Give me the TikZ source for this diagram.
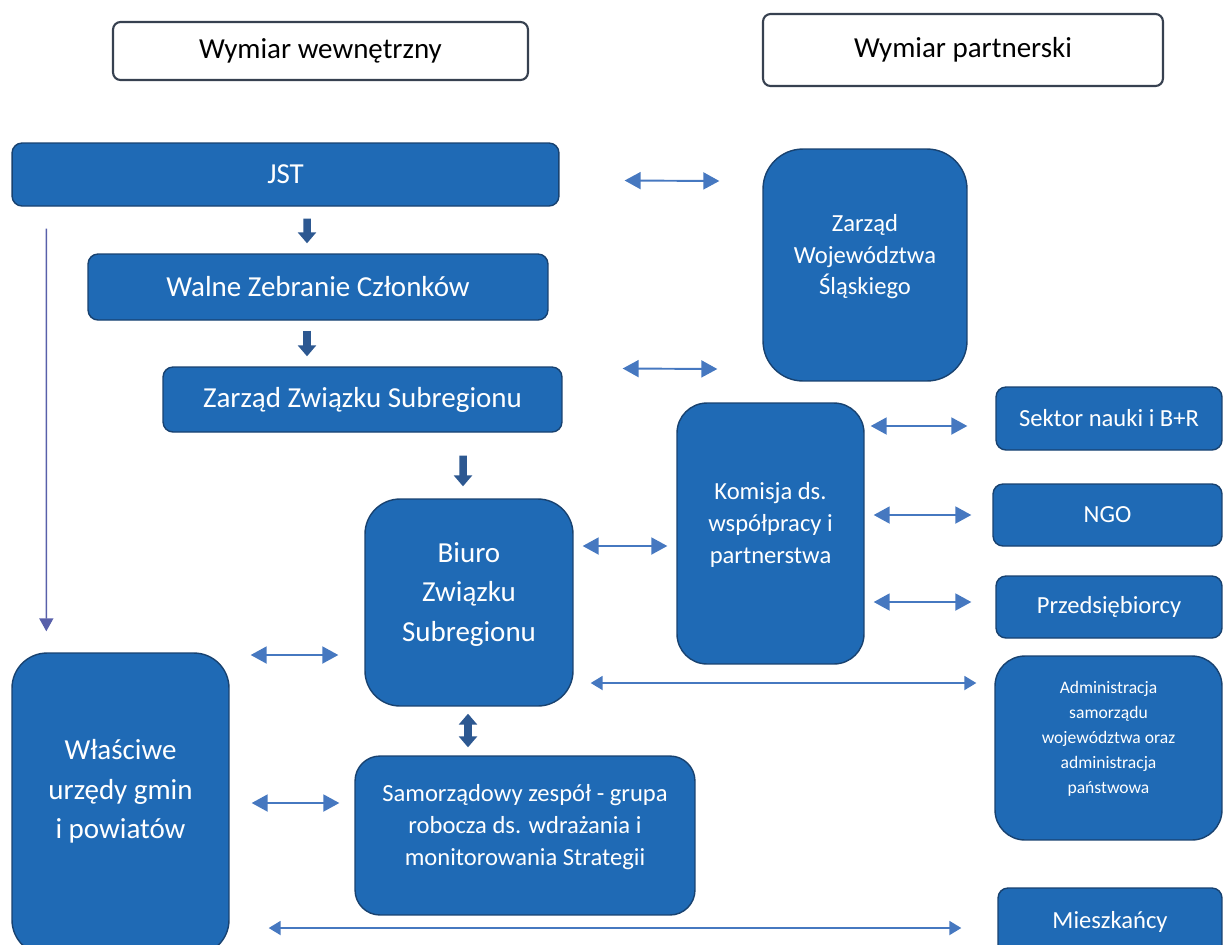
\documentclass[tikz,border=0pt]{standalone}
\usepackage{fontspec}
\setmainfont{Carlito}
\usetikzlibrary{arrows.meta,calc}
\definecolor{boxblue}{RGB}{31,106,181}
\definecolor{boxedge}{RGB}{24,66,112}
\definecolor{arrblue}{RGB}{70,120,192}
\definecolor{thickblue}{RGB}{45,88,145}
\definecolor{sideline}{RGB}{88,96,170}
\definecolor{headedge}{RGB}{55,65,80}
\begin{document}
\begin{tikzpicture}[x=0.02cm,y=-0.02cm,
  hdr/.style={draw=headedge, line width=1.2pt, fill=white, rounded corners=0.15cm, inner sep=0pt, font=\fontsize{16.5}{22.5}\selectfont},
  box/.style={draw=boxedge, line width=0.8pt, fill=boxblue, text=white, rounded corners=0.2cm, inner sep=0pt, align=center, font=\fontsize{16.5}{22.5}\selectfont},
  tallbox/.style={box, rounded corners=0.7cm, text depth=0.42cm},
  midfont/.style={font=\fontsize{14}{18}\selectfont},
  smallfont/.style={font=\fontsize{10}{14.2}\selectfont},
  down/.style={draw=thickblue, line width=0.15cm, -{Triangle[length=0.22cm,width=0.36cm]}},
  updown/.style={draw=thickblue, line width=0.15cm, {Triangle[length=0.22cm,width=0.36cm]}-{Triangle[length=0.22cm,width=0.36cm]}},
  dbl/.style={draw=arrblue, line width=1.1pt, {Triangle[length=0.32cm,width=0.34cm]}-{Triangle[length=0.32cm,width=0.34cm]}},
  longdbl/.style={draw=arrblue, line width=1.1pt, {Triangle[length=0.24cm,width=0.28cm]}-{Triangle[length=0.24cm,width=0.28cm]}},
  side/.style={draw=sideline, line width=0.9pt, -{Triangle[length=0.26cm,width=0.28cm]}}
]
\useasboundingbox (0,0) rectangle (1224,944);
\clip (0,0) rectangle (1224,944);

\node[hdr, minimum width=8.3cm, minimum height=1.16cm] (wew) at (320.5,51) {Wymiar wewnętrzny};
\node[hdr, minimum width=8cm, minimum height=1.44cm] (par) at (963,50) {Wymiar partnerski};

\node[box, minimum width=10.94cm, minimum height=1.26cm] (jst) at (285.5,174.5) {JST};
\node[box, minimum width=9.2cm, minimum height=1.32cm] (wzc) at (318,287) {Walne Zebranie Członków};
\node[box, minimum width=7.98cm, minimum height=1.3cm] (zzs) at (362.5,399.5) {Zarząd Związku Subregionu};
\node[tallbox, midfont, rounded corners=0.8cm, minimum width=4.08cm, minimum height=4.64cm] (zw) at (865,265) {Zarząd\\Województwa\\Śląskiego};
\node[tallbox, midfont, rounded corners=0.6cm, minimum width=3.74cm, minimum height=5.22cm] (kom) at (770.5,533.5) {Komisja ds.\\współpracy i\\partnerstwa};
\node[tallbox, minimum width=4.16cm, minimum height=4.14cm] (biu) at (469,602.5) {Biuro\\Związku\\Subregionu};
\node[tallbox, midfont, rounded corners=0.5cm, minimum width=6.8cm, minimum height=3.18cm] (sam) at (525,835.5) {Samorządowy zespół - grupa\\robocza ds. wdrażania i\\monitorowania Strategii};
\node[tallbox, text depth=0.6cm, minimum width=4.34cm, minimum height=6.04cm] (wla) at (120.5,804) {Właściwe\\urzędy gmin\\i powiatów};

\node[box, midfont, minimum width=4.52cm, minimum height=1.26cm] (sek) at (1109,418.5) {Sektor nauki i B+R};
\node[box, midfont, minimum width=4.58cm, minimum height=1.24cm] (ngo) at (1107.5,515) {NGO};
\node[box, midfont, minimum width=4.52cm, minimum height=1.24cm] (prz) at (1109,607) {Przedsiębiorcy};
\node[tallbox, smallfont, rounded corners=0.6cm, minimum width=4.54cm, minimum height=3.68cm] (adm) at (1108.5,748) {Administracja\\samorządu\\województwa oraz\\administracja\\państwowa};
\node[box, midfont, minimum width=4.48cm, minimum height=1.34cm] (mie) at (1110,921.5) {Mieszkańcy};

\draw[down] ($(jst.south)+(21.5,12)$) -- ($(wzc.north)+(-11,-10)$);
\draw[down] ($(wzc.south)+(-11,10)$) -- ($(zzs.north)+(-55.5,-10)$);
\draw[down] ($(zzs.south)+(100.5,23)$) -- ($(biu.north)+(-6,-12)$);
\draw[updown] ($(biu.south)+(-1,7)$) -- ($(sam.north)+(-57,-8)$);

\draw[side] ($(jst.south west)+(35,22)$) -- ($(wla.north west)+(35,-21)$);

\draw[dbl] ($(jst.east)+(65,6)$) -- ($(zw.west)+(-43,-84)$);
\draw[dbl] ($(zzs.east)+(60,-31)$) -- ($(zw.west)+(-45,104)$);
\draw[dbl] ($(kom.east)+(6,-107.5)$) -- ($(sek.west)+(-28,7.5)$);
\draw[dbl] ($(kom.east)+(9,-18.5)$) -- ($(ngo.west)+(-21,0)$);
\draw[dbl] ($(kom.east)+(9,68.5)$) -- ($(prz.west)+(-24,-5)$);
\draw[dbl] ($(biu.east)+(9,-56.5)$) -- ($(kom.west)+(-9,12.5)$);
\draw[dbl] ($(wla.east)+(21,-149)$) -- ($(biu.west)+(-26,52.5)$);
\draw[dbl] ($(wla.east)+(22,-1)$) -- ($(sam.west)+(-15,-32.5)$);
\draw[longdbl] ($(biu.east)+(17,80.5)$) -- ($(adm.west)+(-18,-65)$);
\draw[longdbl] ($(wla.east)+(39,124)$) -- ($(mie.west)+(-36,6.5)$);

\end{tikzpicture}
\end{document}
